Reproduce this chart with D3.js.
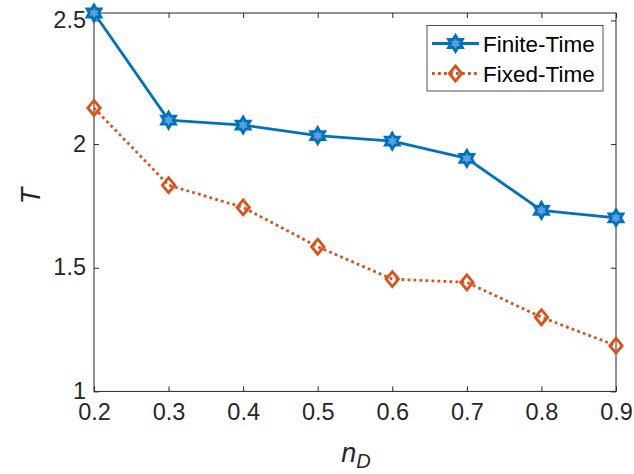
<!DOCTYPE html>
<html><head><meta charset="utf-8">
<script src="https://cdn.jsdelivr.net/npm/d3@7"></script>
<style>body{margin:0;background:#fff}svg{display:block}</style>
</head><body>
<script>
const nD = [0.2, 0.3, 0.4, 0.5, 0.6, 0.7, 0.8, 0.9];
const finiteTime = [2.53, 2.097, 2.077, 2.034, 2.012, 1.942, 1.732, 1.702];
const fixedTime = [2.146, 1.834, 1.744, 1.585, 1.454, 1.441, 1.300, 1.185];
const xTicks = [0.2, 0.3, 0.4, 0.5, 0.6, 0.7, 0.8, 0.9];
const yTicks = [1, 1.5, 2, 2.5];
const seriesNames = ["Finite-Time", "Fixed-Time"];

const W = 634, H = 474;
const L = 94, R = 616, T = 13, B = 391.4;
const font = "'Liberation Sans', Arial, Helvetica, sans-serif";
const blue = "#0072BD", orange = "#D95319", axc = "#262626";

const svg = d3.select("body").append("svg").attr("width", W).attr("height", H);
svg.append("rect").attr("width", W).attr("height", H).attr("fill", "#fff");

const x = d3.scaleLinear().domain([0.2, 0.9]).range([L, R]);
const y = d3.scaleLinear().domain([1, 2.53]).range([B, T]);

const g = svg.append("g");
g.append("rect").attr("x", L).attr("y", T).attr("width", R - L).attr("height", B - T)
  .attr("fill", "none").attr("stroke", axc).attr("stroke-width", 1);

const tl = 5;
const xAxis = d3.axisBottom(x).tickValues(xTicks).tickSize(-tl).tickPadding(12).tickFormat(d3.format(".1f"));
const xa = g.append("g").attr("transform", `translate(0,${B})`).call(xAxis);
const xTop = d3.axisTop(x).tickValues(xTicks).tickSize(-tl).tickFormat("");
const xt = g.append("g").attr("transform", `translate(0,${T})`).call(xTop);
const yAxis = d3.axisLeft(y).tickValues(yTicks).tickSize(-tl).tickPadding(8).tickFormat(d => String(d));
const ya = g.append("g").attr("transform", `translate(${L},0)`).call(yAxis);
const yRight = d3.axisRight(y).tickValues(yTicks).tickSize(-tl).tickFormat("");
const yr = g.append("g").attr("transform", `translate(${R},0)`).call(yRight);
[xa, xt, ya, yr].forEach(a => {
  a.select(".domain").remove();
  a.selectAll("line").attr("stroke", axc).attr("stroke-width", 1);
  a.selectAll("text").attr("fill", axc).style("font-family", font).style("font-size", "23.5px");
});
xa.selectAll("text").attr("dy", "0.71em");
ya.selectAll("text").attr("dy", "0.3em");

const line = d3.line().x((d, i) => x(nD[i])).y(d => y(d));
svg.append("path").datum(finiteTime).attr("d", line).attr("fill", "none")
  .attr("stroke", blue).attr("stroke-width", 2.8).attr("stroke-linejoin", "round");
svg.append("path").datum(fixedTime).attr("d", line).attr("fill", "none")
  .attr("stroke", orange).attr("stroke-width", 2.8).attr("stroke-dasharray", "2.8,3.2");

function hexagram(r) {
  const pts = [];
  const ri = r / Math.sqrt(3);
  for (let k = 0; k < 12; k++) {
    const a = -Math.PI / 2 + k * Math.PI / 6;
    const rr = k % 2 === 0 ? r : ri;
    pts.push([rr * Math.cos(a), rr * Math.sin(a)]);
  }
  return "M" + pts.map(p => p.join(",")).join("L") + "Z";
}
function diamond(h, w) {
  return `M0,${-h}L${w},0L0,${h}L${-w},0Z`;
}
const hexPath = hexagram(8), diaPath = diamond(7.5, 6.2);

svg.append("g").selectAll("path").data(finiteTime).join("path")
  .attr("transform", (d, i) => `translate(${x(nD[i])},${y(d)})`)
  .attr("d", hexPath).attr("fill", "#5aa0d6").attr("stroke", blue).attr("stroke-width", 2.8)
  .attr("stroke-linejoin", "miter");
svg.append("g").selectAll("path").data(fixedTime).join("path")
  .attr("transform", (d, i) => `translate(${x(nD[i])},${y(d)})`)
  .attr("d", diaPath).attr("fill", "none").attr("stroke", orange).attr("stroke-width", 2.8);

const lg = svg.append("g");
lg.append("rect").attr("x", 427).attr("y", 25.5).attr("width", 176).attr("height", 65.5)
  .attr("fill", "#fff").attr("stroke", axc).attr("stroke-width", 0.8);
const rows = [
  {name: seriesNames[0], color: blue, dash: null, mk: hexPath, fill: "#5aa0d6", y: 43.5},
  {name: seriesNames[1], color: orange, dash: "2.8,3.2", mk: diaPath, fill: "none", y: 73.5}
];
rows.forEach(r => {
  lg.append("line").attr("x1", 432).attr("x2", 479).attr("y1", r.y).attr("y2", r.y)
    .attr("stroke", r.color).attr("stroke-width", 2.8).attr("stroke-dasharray", r.dash);
  lg.append("path").attr("d", r.mk).attr("transform", `translate(455.5,${r.y})`)
    .attr("fill", r.fill).attr("stroke", r.color).attr("stroke-width", 2.8);
  lg.append("text").attr("x", 483).attr("y", r.y).attr("dy", "0.36em").text(r.name)
    .attr("fill", "#000").style("font-family", font).style("font-size", "22.5px");
});

svg.append("text").attr("transform", "translate(40,196) rotate(-90)")
  .attr("text-anchor", "middle").style("font-family", font).style("font-size", "27px")
  .style("font-style", "italic").attr("fill", axc).text("T");
const xl = svg.append("text").attr("x", 356).attr("y", 462).attr("text-anchor", "middle")
  .style("font-family", font).style("font-size", "27px").style("font-style", "italic").attr("fill", axc);
xl.append("tspan").text("n");
xl.append("tspan").attr("dy", 6).style("font-size", "20px").text("D");
</script>
</body></html>
